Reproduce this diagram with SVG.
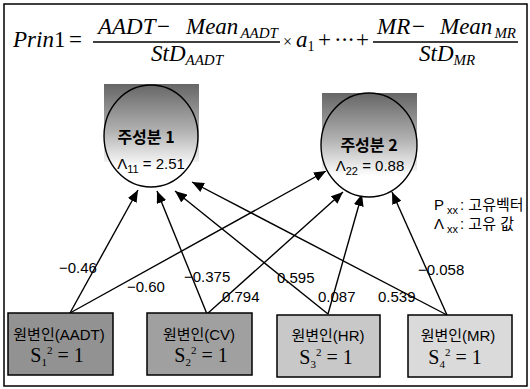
<svg xmlns="http://www.w3.org/2000/svg" width="530" height="389" viewBox="0 0 530 389">
  <style>
    .math { font-family: "Liberation Serif", "Times New Roman", serif; font-size: 23px; fill: #000; }
    .it { font-style: italic; }
    .msub { font-size: 15px; font-style: italic; }
    .lbl { font-family: "Liberation Sans", Arial, sans-serif; font-size: 15px; fill: #000; }
    .kr { font-family: "Liberation Sans", "Noto Sans CJK KR", sans-serif; font-size: 15px; fill: #000; }
    .head { font-family: "Noto Sans CJK KR", sans-serif; font-size: 16px; font-weight: bold; fill: #000; }
    .var { font-family: "Liberation Serif", "Times New Roman", serif; font-size: 20px; fill: #000; }
    .small { font-size: 11px; }
    .box { stroke: #000; stroke-width: 1.5; }
    .pc { stroke: #000; stroke-width: 1.4; }
    .edge { stroke: #000; stroke-width: 1.4; fill: none; marker-end: url(#arrow); }
  </style>
  <defs>
    <marker id="arrow" markerUnits="userSpaceOnUse" markerWidth="12" markerHeight="10" refX="12" refY="5" orient="auto">
      <path d="M0,0 L12,5 L0,10 z" fill="#000"/>
    </marker>
    <linearGradient id="shade1" gradientUnits="userSpaceOnUse" x1="0" y1="84" x2="0" y2="168">
      <stop offset="0" stop-color="#666666"/>
      <stop offset="0.55" stop-color="#b0b0b0"/>
      <stop offset="1" stop-color="#ffffff"/>
    </linearGradient>
    <linearGradient id="shade2" gradientUnits="userSpaceOnUse" x1="0" y1="93" x2="0" y2="176">
      <stop offset="0" stop-color="#666666"/>
      <stop offset="0.55" stop-color="#b0b0b0"/>
      <stop offset="1" stop-color="#ffffff"/>
    </linearGradient>
  </defs>

  <!-- frame -->
  <rect x="4" y="4" width="523" height="382" fill="#fff" stroke="#000" stroke-width="1.5"/>

  <!-- formula -->
  <g id="formula" class="math">
    <text x="13" y="47" class="it">Prin<tspan font-style="normal">1</tspan></text>
    <text x="69" y="47">=</text>
    <line x1="93" y1="42" x2="280" y2="42" stroke="#000" stroke-width="1.3"/>
    <text x="98" y="34" class="it">AADT</text>
    <text x="157" y="34">−</text>
    <text x="186" y="34" class="it">Mean<tspan class="msub" dx="2" dy="4">AADT</tspan></text>
    <text x="151" y="61" class="it">StD<tspan class="msub" dy="4">AADT</tspan></text>
    <text x="283" y="47" font-size="16">×</text>
    <text x="296" y="47" class="it">a<tspan font-size="14" font-style="normal" dy="4">1</tspan></text>
    <text x="318" y="47">+</text>
    <text x="334" y="47" letter-spacing="-1">···</text>
    <text x="356" y="47">+</text>
    <line x1="373" y1="42" x2="518" y2="42" stroke="#000" stroke-width="1.3"/>
    <text x="377" y="34" class="it">MR</text>
    <text x="412" y="34">−</text>
    <text x="440" y="34" class="it">Mean<tspan class="msub" dx="2" dy="4">MR</tspan></text>
    <text x="419" y="61" class="it">StD<tspan class="msub" dy="4">MR</tspan></text>
  </g>

  <!-- connectors -->
  <g id="connectors">
    <line class="edge" x1="70" y1="313" x2="138" y2="190"/>
    <line class="edge" x1="70" y1="313" x2="326" y2="171"/>
    <line class="edge" x1="207" y1="314" x2="157" y2="191"/>
    <line class="edge" x1="207" y1="314" x2="343" y2="192"/>
    <line class="edge" x1="328" y1="314" x2="175" y2="191"/>
    <line class="edge" x1="328" y1="314" x2="362" y2="194"/>
    <line class="edge" x1="447" y1="315" x2="192" y2="182"/>
    <line class="edge" x1="447" y1="315" x2="392" y2="192"/>
    <g class="lbl">
      <text x="59" y="273">−0.46</text>
      <text x="127" y="292">−0.60</text>
      <text x="184" y="282">−0.375</text>
      <text x="222" y="302">0.794</text>
      <text x="277" y="283">0.595</text>
      <text x="318" y="302">0.087</text>
      <text x="378" y="302">0.539</text>
      <text x="418" y="275">−0.058</text>
    </g>
  </g>

  <!-- principal components -->
  <g id="pc1">
    <rect x="104" y="84" width="95" height="78" fill="url(#shade1)"/>
    <ellipse class="pc" cx="151" cy="136" rx="47" ry="51" fill="url(#shade1)"/>
    <text class="head" x="146" y="143" text-anchor="middle">주성분 1</text>
    <text class="lbl" x="151" y="169" text-anchor="middle">Λ<tspan class="small" dy="4">11</tspan><tspan dy="-4"> = 2.51</tspan></text>
  </g>
  <g id="pc2">
    <rect x="322" y="93" width="95" height="78" fill="url(#shade2)"/>
    <ellipse class="pc" cx="369" cy="145" rx="48" ry="52" fill="url(#shade2)"/>
    <text class="head" x="369" y="151" text-anchor="middle">주성분 2</text>
    <text class="lbl" x="370" y="171" text-anchor="middle">Λ<tspan class="small" dy="4">22</tspan><tspan dy="-4"> = 0.88</tspan></text>
  </g>

  <!-- legend -->
  <g id="legend" class="kr">
    <text x="434" y="210">P<tspan class="small" dx="3" dy="4">xx</tspan><tspan dx="2" dy="-4">: 고유벡터</tspan></text>
    <text x="434" y="229">Λ<tspan class="small" dx="3" dy="4">xx</tspan><tspan dx="2" dy="-4">: 고유 값</tspan></text>
  </g>

  <!-- source variables -->
  <g id="v1">
    <rect class="box" x="8" y="313" width="105" height="62" fill="#929292"/>
    <text class="kr" x="59" y="340" text-anchor="middle">원변인(AADT)</text>
    <text class="var" x="57" y="362" text-anchor="middle">S<tspan class="small" dy="4">1</tspan><tspan class="small" dy="-12">2</tspan><tspan dy="8"> = 1</tspan></text>
  </g>
  <g id="v2">
    <rect class="box" x="147" y="313" width="105" height="62" fill="#a0a0a0"/>
    <text class="kr" x="199" y="340" text-anchor="middle">원변인(CV)</text>
    <text class="var" x="201" y="362" text-anchor="middle">S<tspan class="small" dy="4">2</tspan><tspan class="small" dy="-12">2</tspan><tspan dy="8"> = 1</tspan></text>
  </g>
  <g id="v3">
    <rect class="box" x="277" y="315" width="103" height="62" fill="#c8c8c8"/>
    <text class="kr" x="328" y="341" text-anchor="middle">원변인(HR)</text>
    <text class="var" x="326" y="364" text-anchor="middle">S<tspan class="small" dy="4">3</tspan><tspan class="small" dy="-12">2</tspan><tspan dy="8"> = 1</tspan></text>
  </g>
  <g id="v4">
    <rect class="box" x="408" y="315" width="104" height="62" fill="#dadada"/>
    <text class="kr" x="458" y="341" text-anchor="middle">원변인(MR)</text>
    <text class="var" x="455" y="364" text-anchor="middle">S<tspan class="small" dy="4">4</tspan><tspan class="small" dy="-12">2</tspan><tspan dy="8"> = 1</tspan></text>
  </g>
</svg>
